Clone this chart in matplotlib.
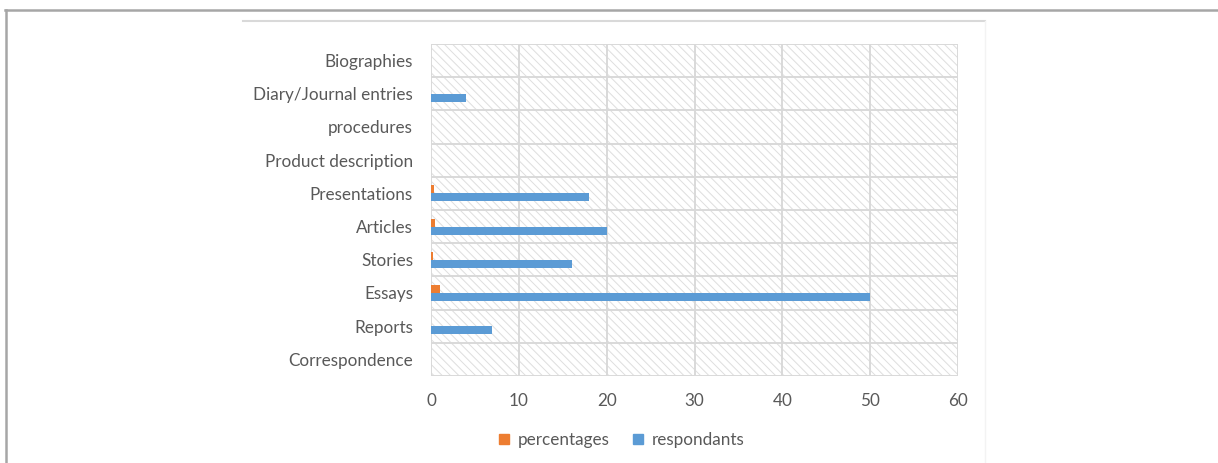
import matplotlib
matplotlib.use("Agg")
import matplotlib.pyplot as plt
from matplotlib.patches import Rectangle
from matplotlib.lines import Line2D
import numpy as np

# Genres, listed bottom to top as drawn on the y axis
categories = ["Correspondence", "Reports", "Essays", "Stories", "Articles",
              "Presentations", "Product description", "procedures",
              "Diary/Journal entries", "Biographies"]
respondants = [0, 7, 50, 16, 20, 18, 0, 0, 4, 0]
percentages = [0, 0, 1.0, 0.2, 0.4, 0.35, 0, 0, 0, 0]
x_ticks = [0, 10, 20, 30, 40, 50, 60]

ORANGE = "#ed7d31"
BLUE = "#5b9bd5"
GRID = "#d9d9d9"
TEXT = "#595959"

plt.rcParams["font.family"] = ["Lato", "DejaVu Sans"]
plt.rcParams["hatch.linewidth"] = 0.7

fig = plt.figure(figsize=(12.18, 4.63), dpi=100)
ax = fig.add_axes([431 / 1218, 87 / 463, 527 / 1218, 332 / 463])

# hatched plot background
ax.add_patch(Rectangle((0, 0), 1, 1, transform=ax.transAxes, facecolor="white",
                       edgecolor="#dedede", hatch="\\\\\\\\", linewidth=0, zorder=0))

y = np.arange(len(categories))
h = 0.24
ax.barh(y + h / 2, percentages, height=h, color=ORANGE, zorder=3, label="percentages")
ax.barh(y - h / 2, respondants, height=h, color=BLUE, zorder=3, label="respondants")

ax.set_xlim(0, 60)
ax.set_ylim(-0.5, len(categories) - 0.5)
ax.set_xticks(x_ticks)
ax.set_yticks(y)
ax.set_yticklabels(categories)

# grid: vertical at each tick, horizontal at category boundaries
for xv in x_ticks:
    ax.axvline(xv, color=GRID, lw=1.4, zorder=1)
for yb in np.arange(-0.5, len(categories), 1.0):
    ax.axhline(yb, color=GRID, lw=1.4, zorder=1)

for s in ax.spines.values():
    s.set_visible(False)
ax.tick_params(axis="both", length=0, colors=TEXT, labelsize=12.3)
ax.tick_params(axis="y", pad=13)
ax.tick_params(axis="x", pad=12)

handles = [Line2D([], [], marker="s", linestyle="none", markersize=6.5, color=ORANGE),
           Line2D([], [], marker="s", linestyle="none", markersize=6.5, color=BLUE)]
leg = fig.legend(handles, ["percentages", "respondants"], loc="center",
                 bbox_to_anchor=(620 / 1218, 1 - 440 / 463), ncol=2, frameon=False,
                 handlelength=1.0, handletextpad=0.3, columnspacing=1.2, fontsize=12.3)
for t in leg.get_texts():
    t.set_color(TEXT)

# page frame and chart-area border
fig.add_artist(Line2D([5 / 1218, 1], [1 - 9.5 / 463] * 2, color="#a6a6a6", lw=1.8,
                      transform=fig.transFigure))
fig.add_artist(Line2D([6 / 1218] * 2, [0, 1 - 9.5 / 463], color="#a6a6a6", lw=1.8,
                      transform=fig.transFigure))
fig.add_artist(Line2D([243 / 1218, 985 / 1218], [1 - 21 / 463] * 2, color="#d9d9d9",
                      lw=1.5, transform=fig.transFigure))
fig.add_artist(Line2D([985 / 1218] * 2, [0, 1 - 21 / 463], color="#f3f3f3",
                      lw=1.0, transform=fig.transFigure))

fig.savefig("out.png", dpi=100)
